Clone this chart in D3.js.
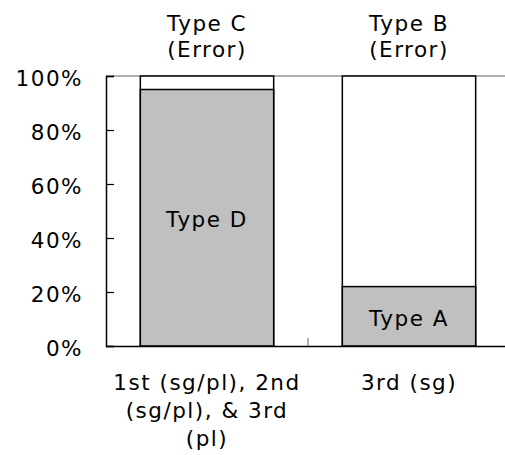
<!DOCTYPE html>
<html>
<head>
<meta charset="utf-8">
<script src="https://cdn.jsdelivr.net/npm/d3@7"></script>
<style>
  body { margin: 0; background: #fff; }
  text { font-family: "DejaVu Sans", Verdana, sans-serif; font-size: 21.5px; letter-spacing: 1.5px; fill: #000; }
</style>
</head>
<body>
<svg id="chart" width="505" height="455"></svg>
<script>
// categories and stacked shares (percent)
const categories = ["1st (sg/pl), 2nd (sg/pl), & 3rd (pl)", "3rd (sg)"];
const categoryLines = [["1st (sg/pl), 2nd", "(sg/pl), & 3rd", "(pl)"], ["3rd (sg)"]];
const lowerValues = [95, 22];          // gray segment
const lowerLabels = ["Type D", "Type A"];
const upperLabels = [["Type C", "(Error)"], ["Type B", "(Error)"]];
const yTicks = [0, 20, 40, 60, 80, 100];

const svg = d3.select("#chart");
const margin = { top: 76, right: -5, bottom: 109, left: 106 };
const width = +svg.attr("width") - margin.left - margin.right;
const height = +svg.attr("height") - margin.top - margin.bottom;
const g = svg.append("g").attr("transform", "translate(" + margin.left + "," + margin.top + ")");

const x = d3.scaleBand().domain(categories).range([0, width]).paddingInner(0.34).paddingOuter(0.17);
const y = d3.scaleLinear().domain([0, 100]).range([height, 0]);

// 100% gridline
g.append("line")
  .attr("x1", 0).attr("x2", width)
  .attr("y1", y(100)).attr("y2", y(100))
  .attr("stroke", "#999").attr("stroke-width", 1.5);

// bars: upper (white) then lower (gray)
const bars = g.selectAll(".bar").data(categories).enter().append("g");
bars.append("rect")
  .attr("x", d => x(d))
  .attr("y", y(100))
  .attr("width", x.bandwidth())
  .attr("height", y(0) - y(100))
  .attr("fill", "#fff").attr("stroke", "#000").attr("stroke-width", 1.5);
bars.append("rect")
  .attr("x", d => x(d))
  .attr("y", (d, i) => y(lowerValues[i]))
  .attr("width", x.bandwidth())
  .attr("height", (d, i) => y(0) - y(lowerValues[i]))
  .attr("fill", "#c0c0c0").attr("stroke", "#000").attr("stroke-width", 1.5);

// segment labels
bars.append("text")
  .attr("x", d => x(d) + x.bandwidth() / 2)
  .attr("y", (d, i) => (y(0) + y(lowerValues[i])) / 2 + 2)
  .attr("dy", "0.35em")
  .attr("text-anchor", "middle")
  .text((d, i) => lowerLabels[i]);

// labels above bars
bars.each(function (d, i) {
  const t = d3.select(this).append("text")
    .attr("text-anchor", "middle")
    .attr("x", x(d) + x.bandwidth() / 2)
    .attr("y", -45);
  upperLabels[i].forEach((line, j) => {
    t.append("tspan").attr("x", x(d) + x.bandwidth() / 2).attr("dy", j ? 26 : 0).text(line);
  });
});

// y axis
const yAxis = g.append("g")
  .call(d3.axisLeft(y).tickValues(yTicks).tickFormat(d => d + "%").tickSize(-8).tickPadding(23));
yAxis.attr("font-family", null).attr("font-size", null);
yAxis.select(".domain").attr("stroke", "#000").attr("stroke-width", 1.5);
yAxis.selectAll(".tick line").attr("stroke", "#000").attr("stroke-width", 1.2);
yAxis.selectAll(".tick text").attr("dy", "0.45em");

// x axis
const xAxis = g.append("g")
  .attr("transform", "translate(0," + height + ")")
  .call(d3.axisBottom(x).tickSize(0).tickFormat(""));
xAxis.select(".domain").attr("stroke", "#000").attr("stroke-width", 1.5);

// divider tick between categories
const mid = (x(categories[0]) + x.bandwidth() + x(categories[1])) / 2;
g.append("line")
  .attr("x1", mid).attr("x2", mid)
  .attr("y1", height).attr("y2", height - 8)
  .attr("stroke", "#777").attr("stroke-width", 1.2);

// category labels
categories.forEach((c, i) => {
  const t = g.append("text")
    .attr("text-anchor", "middle")
    .attr("x", x(c) + x.bandwidth() / 2)
    .attr("y", height + 44);
  categoryLines[i].forEach((line, j) => {
    t.append("tspan").attr("x", x(c) + x.bandwidth() / 2).attr("dy", j ? 28 : 0).text(line);
  });
});
</script>
</body>
</html>
